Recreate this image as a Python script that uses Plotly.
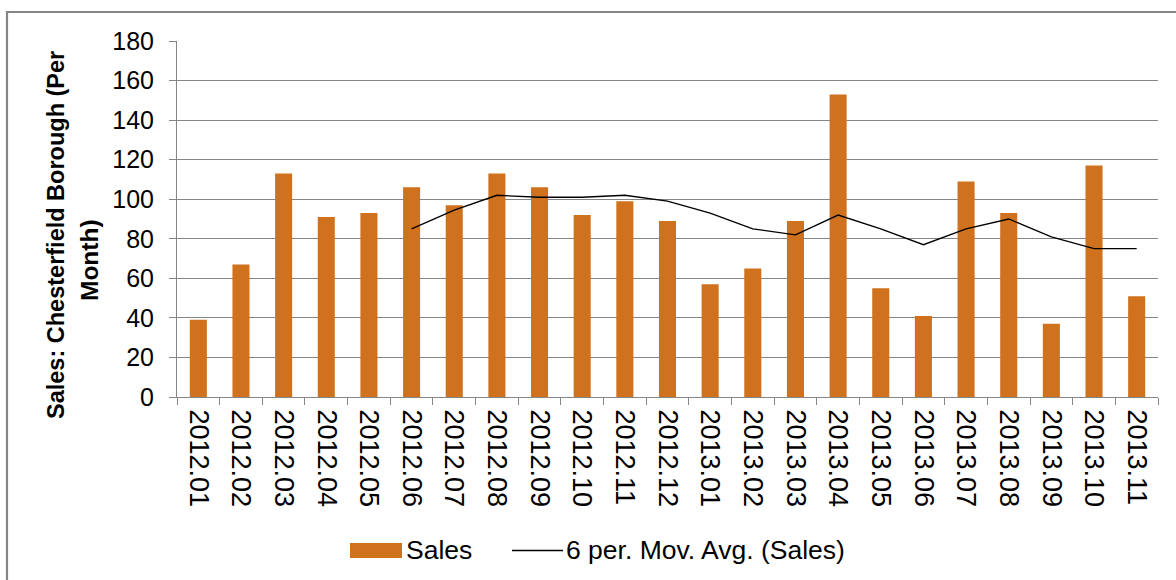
import plotly.graph_objects as go

# ---- data ----
months = ["2012.01", "2012.02", "2012.03", "2012.04", "2012.05", "2012.06",
          "2012.07", "2012.08", "2012.09", "2012.10", "2012.11", "2012.12",
          "2013.01", "2013.02", "2013.03", "2013.04", "2013.05", "2013.06",
          "2013.07", "2013.08", "2013.09", "2013.10", "2013.11"]
sales = [39, 67, 113, 91, 93, 106, 97, 113, 106, 92, 99, 89,
         57, 65, 89, 153, 55, 41, 109, 93, 37, 117, 51]
mov_avg = [None, None, None, None, None, 85, 94.5, 102, 101, 101, 102, 99,
           93, 85, 82, 92, 85, 77, 85, 90, 81, 75, 75]
y_ticks = [0, 20, 40, 60, 80, 100, 120, 140, 160, 180]
title_lines = ["Sales: Chesterfield Borough (Per", "Month)"]
legend_names = ["Sales", "6 per. Mov. Avg. (Sales)"]

# ---- geometry ----
W, H = 1176, 580
L, R, T, B = 177, 18, 41, 183
PW, PH = W - L - R, H - T - B


def px(x):
    return (x - L) / PW


def py(y):
    return (H - B - y) / PH


BAR = "#D0711E"
GRID = "#868686"
FONT = "Liberation Sans, Arial, sans-serif"

fig = go.Figure()
fig.add_trace(go.Bar(x=months, y=sales, name=legend_names[0],
                     marker=dict(color=BAR, line=dict(width=0)),
                     showlegend=False))
fig.add_trace(go.Scatter(x=months, y=mov_avg, name=legend_names[1],
                         mode="lines", line=dict(color="black", width=1.3),
                         connectgaps=False, showlegend=False))

fig.update_layout(
    width=W, height=H,
    margin=dict(l=L, r=R, t=T, b=B, pad=0),
    paper_bgcolor="white", plot_bgcolor="white",
    font=dict(family=FONT, color="black", size=25),
    bargap=0.6,
    xaxis=dict(type="category", tickangle=90, tickson="boundaries",
               ticks="outside", ticklen=7, tickcolor=GRID, tickwidth=1,
               showline=True, linecolor=GRID, linewidth=1,
               showgrid=False, tickfont=dict(size=27, family=FONT),
               ticklabelstandoff=6),
    yaxis=dict(range=[0, 180], tickvals=y_ticks,
               ticks="outside", ticklen=7, tickcolor=GRID, tickwidth=1,
               showline=True, linecolor=GRID, linewidth=1,
               showgrid=True, gridcolor=GRID, gridwidth=1,
               zeroline=False, tickfont=dict(size=25, family=FONT),
               ticklabelstandoff=10),
)

# outer chart border
fig.add_shape(type="rect", xref="paper", yref="paper",
              x0=px(7), x1=px(W + 5), y0=py(12), y1=py(H + 5),
              line=dict(color="#858585", width=2.2), fillcolor="rgba(0,0,0,0)",
              layer="below")

# y-axis title (two lines)
fig.add_annotation(text="<b>%s</b>" % title_lines[0], textangle=-90,
                   xref="paper", yref="paper", x=px(56), y=py(235),
                   xanchor="center", yanchor="middle", showarrow=False,
                   font=dict(size=23.5, family=FONT, color="black"))
fig.add_annotation(text="<b>%s</b>" % title_lines[1], textangle=-90,
                   xref="paper", yref="paper", x=px(89), y=py(260),
                   xanchor="center", yanchor="middle", showarrow=False,
                   font=dict(size=24.5, family=FONT, color="black"))

# legend (drawn manually to match the wide swatches)
fig.add_shape(type="rect", xref="paper", yref="paper",
              x0=px(350), x1=px(402), y0=py(543), y1=py(558),
              fillcolor=BAR, line=dict(width=0))
fig.add_shape(type="line", xref="paper", yref="paper",
              x0=px(512), x1=px(563), y0=py(550.5), y1=py(550.5),
              line=dict(color="black", width=1.3))
fig.add_annotation(text=legend_names[0], xref="paper", yref="paper",
                   x=px(404), y=py(550), xanchor="left", yanchor="middle",
                   showarrow=False, font=dict(size=26.5, family=FONT))
fig.add_annotation(text=legend_names[1], xref="paper", yref="paper",
                   x=px(564), y=py(550), xanchor="left", yanchor="middle",
                   showarrow=False, font=dict(size=26.5, family=FONT))

fig.write_html("out.html",
               config={"displayModeBar": False},
               post_script="document.body.style.margin='0';"
                           "document.body.style.overflow='hidden';")
